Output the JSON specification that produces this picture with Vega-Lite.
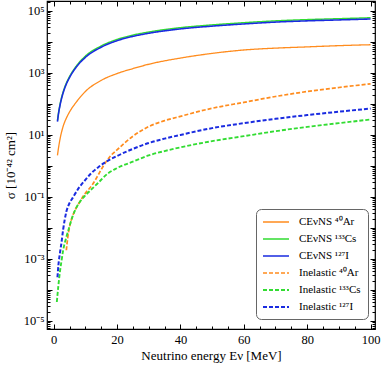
{
  "$schema": "https://vega.github.io/schema/vega-lite/v6.json",
  "width": 328,
  "height": 328,
  "autosize": {"type": "none"},
  "padding": {"left": 47, "top": 1, "right": 7, "bottom": 39},
  "config": {
    "view": {"stroke": "#000", "strokeWidth": 1.2},
    "axis": {"domain": false, "grid": false, "tickColor": "#000", "labelColor": "#000", "titleColor": "#000", "labelFont": "Liberation Serif", "titleFont": "Liberation Serif", "labelFontSize": 12.5, "titleFontSize": 13, "titleFontWeight": "normal"},
    "legend": {"orient": "none", "legendX": 209, "legendY": 208, "fillColor": "white", "strokeColor": "#666", "cornerRadius": 5, "padding": 7, "symbolType": "M-2.6,0H2.6", "symbolSize": 100, "symbolOffset": 7, "labelFont": "Liberation Serif", "labelFontSize": 11, "labelColor": "#000", "labelOffset": 17, "rowPadding": 6}
  },
  "data": {"values": [
    {"E": 1.2, "sigma": 2.188, "s": "CEνNS ⁴⁰Ar"},
    {"E": 1.5, "sigma": 3.631, "s": "CEνNS ⁴⁰Ar"},
    {"E": 2, "sigma": 7.244, "s": "CEνNS ⁴⁰Ar"},
    {"E": 3, "sigma": 19.05, "s": "CEνNS ⁴⁰Ar"},
    {"E": 4, "sigma": 34.67, "s": "CEνNS ⁴⁰Ar"},
    {"E": 5, "sigma": 54.95, "s": "CEνNS ⁴⁰Ar"},
    {"E": 7, "sigma": 109.6, "s": "CEνNS ⁴⁰Ar"},
    {"E": 10, "sigma": 251.2, "s": "CEνNS ⁴⁰Ar"},
    {"E": 15, "sigma": 575.4, "s": "CEνNS ⁴⁰Ar"},
    {"E": 20, "sigma": 955, "s": "CEνNS ⁴⁰Ar"},
    {"E": 25, "sigma": 1380, "s": "CEνNS ⁴⁰Ar"},
    {"E": 30, "sigma": 1905, "s": "CEνNS ⁴⁰Ar"},
    {"E": 40, "sigma": 3020, "s": "CEνNS ⁴⁰Ar"},
    {"E": 50, "sigma": 4266, "s": "CEνNS ⁴⁰Ar"},
    {"E": 60, "sigma": 5495, "s": "CEνNS ⁴⁰Ar"},
    {"E": 70, "sigma": 6310, "s": "CEνNS ⁴⁰Ar"},
    {"E": 80, "sigma": 6918, "s": "CEνNS ⁴⁰Ar"},
    {"E": 90, "sigma": 7586, "s": "CEνNS ⁴⁰Ar"},
    {"E": 100, "sigma": 8128, "s": "CEνNS ⁴⁰Ar"},
    {"E": 1.2, "sigma": 28.8, "s": "CEνNS ¹³³Cs"},
    {"E": 1.5, "sigma": 49.0, "s": "CEνNS ¹³³Cs"},
    {"E": 2, "sigma": 95.5, "s": "CEνNS ¹³³Cs"},
    {"E": 3, "sigma": 245, "s": "CEνNS ¹³³Cs"},
    {"E": 4, "sigma": 468, "s": "CEνNS ¹³³Cs"},
    {"E": 5, "sigma": 759, "s": "CEνNS ¹³³Cs"},
    {"E": 7, "sigma": 1585, "s": "CEνNS ¹³³Cs"},
    {"E": 10, "sigma": 3467, "s": "CEνNS ¹³³Cs"},
    {"E": 15, "sigma": 7413, "s": "CEνNS ¹³³Cs"},
    {"E": 20, "sigma": 12023, "s": "CEνNS ¹³³Cs"},
    {"E": 25, "sigma": 16596, "s": "CEνNS ¹³³Cs"},
    {"E": 30, "sigma": 20893, "s": "CEνNS ¹³³Cs"},
    {"E": 40, "sigma": 28840, "s": "CEνNS ¹³³Cs"},
    {"E": 50, "sigma": 35481, "s": "CEνNS ¹³³Cs"},
    {"E": 60, "sigma": 41687, "s": "CEνNS ¹³³Cs"},
    {"E": 70, "sigma": 47863, "s": "CEνNS ¹³³Cs"},
    {"E": 80, "sigma": 52481, "s": "CEνNS ¹³³Cs"},
    {"E": 90, "sigma": 56234, "s": "CEνNS ¹³³Cs"},
    {"E": 100, "sigma": 60256, "s": "CEνNS ¹³³Cs"},
    {"E": 1.2, "sigma": 26.9, "s": "CEνNS ¹²⁷I"},
    {"E": 1.5, "sigma": 45.7, "s": "CEνNS ¹²⁷I"},
    {"E": 2, "sigma": 89.1, "s": "CEνNS ¹²⁷I"},
    {"E": 3, "sigma": 229, "s": "CEνNS ¹²⁷I"},
    {"E": 4, "sigma": 437, "s": "CEνNS ¹²⁷I"},
    {"E": 5, "sigma": 708, "s": "CEνNS ¹²⁷I"},
    {"E": 7, "sigma": 1479, "s": "CEνNS ¹²⁷I"},
    {"E": 10, "sigma": 3162, "s": "CEνNS ¹²⁷I"},
    {"E": 15, "sigma": 6761, "s": "CEνNS ¹²⁷I"},
    {"E": 20, "sigma": 10965, "s": "CEνNS ¹²⁷I"},
    {"E": 25, "sigma": 15136, "s": "CEνNS ¹²⁷I"},
    {"E": 30, "sigma": 19055, "s": "CEνNS ¹²⁷I"},
    {"E": 40, "sigma": 26303, "s": "CEνNS ¹²⁷I"},
    {"E": 50, "sigma": 32359, "s": "CEνNS ¹²⁷I"},
    {"E": 60, "sigma": 38019, "s": "CEνNS ¹²⁷I"},
    {"E": 70, "sigma": 43652, "s": "CEνNS ¹²⁷I"},
    {"E": 80, "sigma": 47863, "s": "CEνNS ¹²⁷I"},
    {"E": 90, "sigma": 51286, "s": "CEνNS ¹²⁷I"},
    {"E": 100, "sigma": 54954, "s": "CEνNS ¹²⁷I"},
    {"E": 4, "sigma": 0.001905, "s": "Inelastic ⁴⁰Ar"},
    {"E": 4.4, "sigma": 0.0045, "s": "Inelastic ⁴⁰Ar"},
    {"E": 5, "sigma": 0.0105, "s": "Inelastic ⁴⁰Ar"},
    {"E": 6, "sigma": 0.0245, "s": "Inelastic ⁴⁰Ar"},
    {"E": 7, "sigma": 0.0417, "s": "Inelastic ⁴⁰Ar"},
    {"E": 8, "sigma": 0.0631, "s": "Inelastic ⁴⁰Ar"},
    {"E": 10, "sigma": 0.1318, "s": "Inelastic ⁴⁰Ar"},
    {"E": 12, "sigma": 0.2291, "s": "Inelastic ⁴⁰Ar"},
    {"E": 14, "sigma": 0.5012, "s": "Inelastic ⁴⁰Ar"},
    {"E": 15, "sigma": 0.7586, "s": "Inelastic ⁴⁰Ar"},
    {"E": 16, "sigma": 1.122, "s": "Inelastic ⁴⁰Ar"},
    {"E": 18, "sigma": 2.138, "s": "Inelastic ⁴⁰Ar"},
    {"E": 20, "sigma": 3.311, "s": "Inelastic ⁴⁰Ar"},
    {"E": 25, "sigma": 9.12, "s": "Inelastic ⁴⁰Ar"},
    {"E": 30, "sigma": 18.62, "s": "Inelastic ⁴⁰Ar"},
    {"E": 35, "sigma": 28.84, "s": "Inelastic ⁴⁰Ar"},
    {"E": 40, "sigma": 39.81, "s": "Inelastic ⁴⁰Ar"},
    {"E": 50, "sigma": 72.44, "s": "Inelastic ⁴⁰Ar"},
    {"E": 60, "sigma": 112.2, "s": "Inelastic ⁴⁰Ar"},
    {"E": 70, "sigma": 173.8, "s": "Inelastic ⁴⁰Ar"},
    {"E": 80, "sigma": 251.2, "s": "Inelastic ⁴⁰Ar"},
    {"E": 90, "sigma": 338.8, "s": "Inelastic ⁴⁰Ar"},
    {"E": 100, "sigma": 446.7, "s": "Inelastic ⁴⁰Ar"},
    {"E": 1, "sigma": 0.00004074, "s": "Inelastic ¹³³Cs"},
    {"E": 1.5, "sigma": 0.0001413, "s": "Inelastic ¹³³Cs"},
    {"E": 2, "sigma": 0.0003981, "s": "Inelastic ¹³³Cs"},
    {"E": 2.5, "sigma": 0.0008913, "s": "Inelastic ¹³³Cs"},
    {"E": 3, "sigma": 0.001905, "s": "Inelastic ¹³³Cs"},
    {"E": 4, "sigma": 0.005012, "s": "Inelastic ¹³³Cs"},
    {"E": 5, "sigma": 0.01122, "s": "Inelastic ¹³³Cs"},
    {"E": 6, "sigma": 0.02399, "s": "Inelastic ¹³³Cs"},
    {"E": 7, "sigma": 0.04169, "s": "Inelastic ¹³³Cs"},
    {"E": 8, "sigma": 0.0631, "s": "Inelastic ¹³³Cs"},
    {"E": 10, "sigma": 0.1122, "s": "Inelastic ¹³³Cs"},
    {"E": 12, "sigma": 0.1778, "s": "Inelastic ¹³³Cs"},
    {"E": 14, "sigma": 0.2818, "s": "Inelastic ¹³³Cs"},
    {"E": 17, "sigma": 0.5623, "s": "Inelastic ¹³³Cs"},
    {"E": 20, "sigma": 0.8511, "s": "Inelastic ¹³³Cs"},
    {"E": 25, "sigma": 1.38, "s": "Inelastic ¹³³Cs"},
    {"E": 30, "sigma": 2.188, "s": "Inelastic ¹³³Cs"},
    {"E": 35, "sigma": 3.02, "s": "Inelastic ¹³³Cs"},
    {"E": 40, "sigma": 3.981, "s": "Inelastic ¹³³Cs"},
    {"E": 50, "sigma": 6.31, "s": "Inelastic ¹³³Cs"},
    {"E": 60, "sigma": 9.12, "s": "Inelastic ¹³³Cs"},
    {"E": 70, "sigma": 13.18, "s": "Inelastic ¹³³Cs"},
    {"E": 80, "sigma": 18.2, "s": "Inelastic ¹³³Cs"},
    {"E": 90, "sigma": 23.99, "s": "Inelastic ¹³³Cs"},
    {"E": 100, "sigma": 31.62, "s": "Inelastic ¹³³Cs"},
    {"E": 1.2, "sigma": 0.000257, "s": "Inelastic ¹²⁷I"},
    {"E": 1.5, "sigma": 0.000631, "s": "Inelastic ¹²⁷I"},
    {"E": 2, "sigma": 0.001585, "s": "Inelastic ¹²⁷I"},
    {"E": 2.5, "sigma": 0.003548, "s": "Inelastic ¹²⁷I"},
    {"E": 3, "sigma": 0.008913, "s": "Inelastic ¹²⁷I"},
    {"E": 4, "sigma": 0.03311, "s": "Inelastic ¹²⁷I"},
    {"E": 5, "sigma": 0.0631, "s": "Inelastic ¹²⁷I"},
    {"E": 6, "sigma": 0.09333, "s": "Inelastic ¹²⁷I"},
    {"E": 8, "sigma": 0.1995, "s": "Inelastic ¹²⁷I"},
    {"E": 10, "sigma": 0.3548, "s": "Inelastic ¹²⁷I"},
    {"E": 12, "sigma": 0.6026, "s": "Inelastic ¹²⁷I"},
    {"E": 14, "sigma": 0.8913, "s": "Inelastic ¹²⁷I"},
    {"E": 16, "sigma": 1.259, "s": "Inelastic ¹²⁷I"},
    {"E": 20, "sigma": 2.089, "s": "Inelastic ¹²⁷I"},
    {"E": 25, "sigma": 3.548, "s": "Inelastic ¹²⁷I"},
    {"E": 30, "sigma": 5.495, "s": "Inelastic ¹²⁷I"},
    {"E": 35, "sigma": 7.586, "s": "Inelastic ¹²⁷I"},
    {"E": 40, "sigma": 10, "s": "Inelastic ¹²⁷I"},
    {"E": 50, "sigma": 16.6, "s": "Inelastic ¹²⁷I"},
    {"E": 60, "sigma": 23.99, "s": "Inelastic ¹²⁷I"},
    {"E": 70, "sigma": 33.11, "s": "Inelastic ¹²⁷I"},
    {"E": 80, "sigma": 43.65, "s": "Inelastic ¹²⁷I"},
    {"E": 90, "sigma": 56.23, "s": "Inelastic ¹²⁷I"},
    {"E": 100, "sigma": 70.79, "s": "Inelastic ¹²⁷I"}
  ]},
  "resolve": {"axis": {"x": "independent", "y": "independent"}},
  "layer": [
    {
      "mark": {"type": "line", "interpolate": "monotone"},
      "encoding": {
        "x": {"field": "E", "type": "quantitative", "scale": {"domain": [-2.1, 101.4], "nice": false, "zero": false},
              "axis": {"orient": "bottom", "values": [0, 20, 40, 60, 80, 100], "tickSize": -5, "labelPadding": 9, "title": "Neutrino energy Eν [MeV]", "titlePadding": 4}},
        "y": {"field": "sigma", "type": "quantitative", "scale": {"type": "log", "domain": [0.0000055, 209000], "nice": false},
              "axis": {"orient": "left", "values": [0.00001, 0.0001, 0.001, 0.01, 0.1, 1, 10, 100, 1000, 10000, 100000], "tickSize": -5, "labelPadding": 8,
                       "labelExpr": "datum.value===100000?'10⁵':datum.value===1000?'10³':datum.value===10?'10¹':datum.value===0.1?'10⁻¹':datum.value===0.001?'10⁻³':datum.value===0.00001?'10⁻⁵':''",
                       "title": "σ [10⁻⁴² cm²]", "titlePadding": 6}},
        "color": {"field": "s", "type": "nominal", "title": null,
                  "scale": {"domain": ["CEνNS ⁴⁰Ar", "CEνNS ¹³³Cs", "CEνNS ¹²⁷I", "Inelastic ⁴⁰Ar", "Inelastic ¹³³Cs", "Inelastic ¹²⁷I"],
                            "range": ["#ff8c1e", "#32dc32", "#1a2be0", "#ff8c1e", "#32dc32", "#1a2be0"]}},
        "strokeDash": {"field": "s", "type": "nominal", "title": null,
                  "scale": {"domain": ["CEνNS ⁴⁰Ar", "CEνNS ¹³³Cs", "CEνNS ¹²⁷I", "Inelastic ⁴⁰Ar", "Inelastic ¹³³Cs", "Inelastic ¹²⁷I"],
                            "range": [[1, 0], [1, 0], [1, 0], [4, 2], [4, 2], [4, 2]]}},
        "strokeWidth": {"field": "s", "type": "nominal", "title": null,
                  "scale": {"domain": ["CEνNS ⁴⁰Ar", "CEνNS ¹³³Cs", "CEνNS ¹²⁷I", "Inelastic ⁴⁰Ar", "Inelastic ¹³³Cs", "Inelastic ¹²⁷I"],
                            "range": [1.3, 2, 2, 1.3, 1.3, 1.3]}}
      }
    },
    {
      "mark": {"type": "point", "opacity": 0},
      "encoding": {
        "x": {"field": "E", "type": "quantitative", "axis": {"orient": "top", "values": [0, 20, 40, 60, 80, 100], "tickSize": -5, "labels": false, "title": null}},
        "y": {"field": "sigma", "type": "quantitative", "axis": {"orient": "right", "values": [0.00001, 0.0001, 0.001, 0.01, 0.1, 1, 10, 100, 1000, 10000, 100000], "tickSize": -5, "labels": false, "title": null}}
      }
    },
    {
      "mark": {"type": "point", "opacity": 0},
      "encoding": {
        "x": {"field": "E", "type": "quantitative", "axis": {"orient": "bottom", "values": [5, 10, 15, 25, 30, 35, 45, 50, 55, 65, 70, 75, 85, 90, 95], "tickSize": -3, "labels": false, "title": null}},
        "y": {"field": "sigma", "type": "quantitative", "axis": {"orient": "left", "tickSize": -3, "labels": false, "title": null,
          "values": [0.000006, 0.000007, 0.000008, 0.000009, 0.00002, 0.00003, 0.00004, 0.00005, 0.00006, 0.00007, 0.00008, 0.00009, 0.0002, 0.0003, 0.0004, 0.0005, 0.0006, 0.0007, 0.0008, 0.0009, 0.002, 0.003, 0.004, 0.005, 0.006, 0.007, 0.008, 0.009, 0.02, 0.03, 0.04, 0.05, 0.06, 0.07, 0.08, 0.09, 0.2, 0.3, 0.4, 0.5, 0.6, 0.7, 0.8, 0.9, 2, 3, 4, 5, 6, 7, 8, 9, 20, 30, 40, 50, 60, 70, 80, 90, 200, 300, 400, 500, 600, 700, 800, 900, 2000, 3000, 4000, 5000, 6000, 7000, 8000, 9000, 20000, 30000, 40000, 50000, 60000, 70000, 80000, 90000, 200000]}}
      }
    },
    {
      "mark": {"type": "point", "opacity": 0},
      "encoding": {
        "x": {"field": "E", "type": "quantitative", "axis": {"orient": "top", "values": [5, 10, 15, 25, 30, 35, 45, 50, 55, 65, 70, 75, 85, 90, 95], "tickSize": -3, "labels": false, "title": null}},
        "y": {"field": "sigma", "type": "quantitative", "axis": {"orient": "right", "tickSize": -3, "labels": false, "title": null,
          "values": [0.000006, 0.000007, 0.000008, 0.000009, 0.00002, 0.00003, 0.00004, 0.00005, 0.00006, 0.00007, 0.00008, 0.00009, 0.0002, 0.0003, 0.0004, 0.0005, 0.0006, 0.0007, 0.0008, 0.0009, 0.002, 0.003, 0.004, 0.005, 0.006, 0.007, 0.008, 0.009, 0.02, 0.03, 0.04, 0.05, 0.06, 0.07, 0.08, 0.09, 0.2, 0.3, 0.4, 0.5, 0.6, 0.7, 0.8, 0.9, 2, 3, 4, 5, 6, 7, 8, 9, 20, 30, 40, 50, 60, 70, 80, 90, 200, 300, 400, 500, 600, 700, 800, 900, 2000, 3000, 4000, 5000, 6000, 7000, 8000, 9000, 20000, 30000, 40000, 50000, 60000, 70000, 80000, 90000, 200000]}}
      }
    }
  ]
}
